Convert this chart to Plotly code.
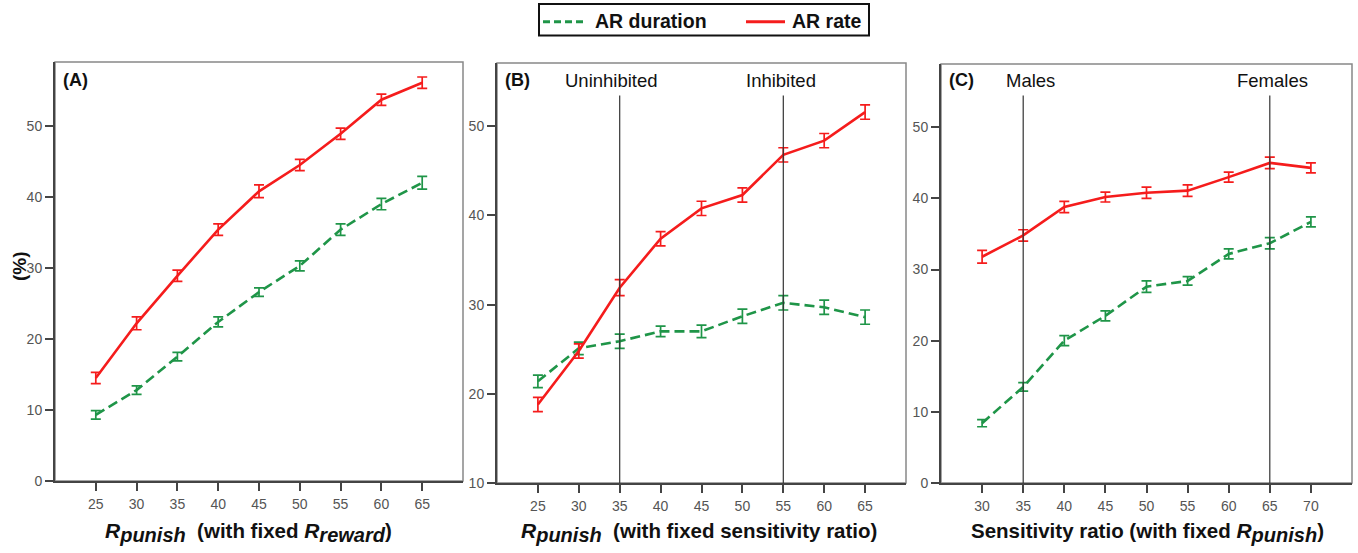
import plotly.graph_objects as go

# ---------------- data ----------------
x_a = [25, 30, 35, 40, 45, 50, 55, 60, 65]
rate_a = [14.5, 22.2, 28.9, 35.4, 40.8, 44.5, 48.9, 53.7, 56.1]
rate_a_err = [0.8, 0.9, 0.8, 0.8, 0.9, 0.8, 0.8, 0.8, 0.8]
dur_a = [9.3, 12.8, 17.5, 22.4, 26.6, 30.3, 35.4, 39.0, 42.0]
dur_a_err = [0.6, 0.6, 0.6, 0.7, 0.6, 0.7, 0.8, 0.8, 0.9]

x_b = [25, 30, 35, 40, 45, 50, 55, 60, 65]
rate_b = [18.8, 24.8, 31.9, 37.4, 40.8, 42.3, 46.8, 48.4, 51.6]
rate_b_err = [0.8, 0.8, 0.9, 0.8, 0.8, 0.8, 0.8, 0.8, 0.8]
dur_b = [21.4, 25.1, 25.9, 27.0, 27.0, 28.7, 30.2, 29.7, 28.6]
dur_b_err = [0.7, 0.7, 0.8, 0.6, 0.7, 0.8, 0.8, 0.8, 0.8]

x_c = [30, 35, 40, 45, 50, 55, 60, 65, 70]
rate_c = [31.8, 34.8, 38.8, 40.2, 40.8, 41.1, 43.0, 45.0, 44.3]
rate_c_err = [0.9, 0.8, 0.8, 0.7, 0.8, 0.8, 0.7, 0.8, 0.7]
dur_c = [8.4, 13.5, 20.0, 23.5, 27.6, 28.4, 32.2, 33.7, 36.7]
dur_c_err = [0.5, 0.6, 0.7, 0.7, 0.8, 0.6, 0.7, 0.8, 0.7]

ref_b = [35, 55]
ref_b_labels = ["Uninhibited", "Inhibited"]
ref_b_shift = [-8, -2]
ref_c = [35, 65]
ref_c_labels = ["Males", "Females"]
ref_c_shift = [7, 3]

panel_labels = ["(A)", "(B)", "(C)"]
series_names = ["AR duration", "AR rate"]

RED = "#f51c1c"
GREEN = "#1f9548"
FONT = "Arial, Liberation Sans, sans-serif"
W, H = 1358, 553


def px_x(p):
    return p / W


def px_y(p):
    return 1 - p / H


# panel geometry in pixels (left, right, top, bottom)
panels = [
    dict(l=55, r=463, t=63, b=488, xr=[20, 70], yr=[0, 59.0], yt=[0, 10, 20, 30, 40, 50], xt=x_a),
    dict(l=497, r=906, t=64, b=490, xr=[20, 70], yr=[10, 57.1], yt=[10, 20, 30, 40, 50], xt=x_b),
    dict(l=941, r=1352, t=65, b=490, xr=[25, 75], yr=[0, 58.9], yt=[0, 10, 20, 30, 40, 50], xt=x_c),
]

fig = go.Figure()

datasets = [
    (x_a, dur_a, dur_a_err, rate_a, rate_a_err),
    (x_b, dur_b, dur_b_err, rate_b, rate_b_err),
    (x_c, dur_c, dur_c_err, rate_c, rate_c_err),
]

for i, (xs, dur, dure, rate, ratee) in enumerate(datasets):
    xa = "x" if i == 0 else f"x{i+1}"
    ya = "y" if i == 0 else f"y{i+1}"
    fig.add_trace(go.Scatter(
        x=xs, y=dur, mode="lines", name=series_names[0], showlegend=False,
        line=dict(color=GREEN, width=2.6, dash="10px,5px"),
        error_y=dict(type="data", array=dure, color=GREEN, thickness=1.7, width=5),
        xaxis=xa, yaxis=ya))
    fig.add_trace(go.Scatter(
        x=xs, y=rate, mode="lines", name=series_names[1], showlegend=False,
        line=dict(color=RED, width=2.6),
        error_y=dict(type="data", array=ratee, color=RED, thickness=1.7, width=5),
        xaxis=xa, yaxis=ya))

layout = dict(
    width=W, height=H,
    margin=dict(l=0, r=0, t=0, b=0),
    paper_bgcolor="white", plot_bgcolor="white",
    font=dict(family=FONT, size=14, color="#555"),
    showlegend=False,
)

shapes = []
annotations = []
for i, p in enumerate(panels):
    sfx = "" if i == 0 else str(i + 1)
    xd = [px_x(p["l"]), px_x(p["r"])]
    yd = [px_y(p["b"]), px_y(p["t"])]
    layout["xaxis" + sfx] = dict(
        domain=xd, range=p["xr"], tickvals=p["xt"], ticks="outside", ticklen=8,
        tickwidth=1.5, tickcolor="#444", showline=True, linecolor="#444", linewidth=2,
        showgrid=False, zeroline=False, anchor="y" + sfx, ticklabelstandoff=1,
        tickfont=dict(size=14, color="#555"), fixedrange=True)
    layout["yaxis" + sfx] = dict(
        domain=yd, range=p["yr"], tickvals=p["yt"], ticks="outside", ticklen=8,
        tickwidth=1.5, tickcolor="#444", showline=True, linecolor="#444", linewidth=2,
        showgrid=False, zeroline=False, anchor="x" + sfx,
        tickfont=dict(size=14, color="#555"), fixedrange=True)
    # frame
    shapes.append(dict(type="rect", xref="paper", yref="paper",
                       x0=xd[0], x1=xd[1], y0=yd[0], y1=yd[1],
                       line=dict(color="#888", width=1.5), layer="below"))
    # panel label
    annotations.append(dict(text="<b>" + panel_labels[i] + "</b>", xref="paper", yref="paper",
                            x=px_x(p["l"] + 6), y=px_y(81), xanchor="left", yanchor="middle",
                            showarrow=False, font=dict(size=18, color="#111")))

# reference lines
for idx, (vals, labs, shifts) in enumerate([(ref_b, ref_b_labels, ref_b_shift),
                                            (ref_c, ref_c_labels, ref_c_shift)]):
    p = panels[idx + 1]
    xref = f"x{idx+2}"
    for v, lab, sh in zip(vals, labs, shifts):
        shapes.append(dict(type="line", xref=xref, yref="paper", x0=v, x1=v,
                           y0=px_y(p["b"]), y1=px_y(97), line=dict(color="#333", width=1.2)))
        annotations.append(dict(text=lab, xref=xref, yref="paper", x=v, y=px_y(81.5),
                                xanchor="center", yanchor="middle", showarrow=False, xshift=sh,
                                font=dict(size=18.5, color="#111")))

SUB = '<sub><span style="font-size:20px">{}</span></sub>'
RR = '<span style="font-size:21px"><i>R</i></span>'

# axis titles
annotations.append(dict(
    text="<b>" + RR + "<i>" + SUB.format("punish") + "</i> &nbsp;(with fixed " + RR + "<i>"
         + SUB.format("reward") + "</i>)</b>",
    xref="paper", yref="paper", x=px_x(249), y=px_y(540), xanchor="center", yanchor="middle",
    showarrow=False, font=dict(size=20.5, color="#111")))
annotations.append(dict(
    text="<b>" + RR + "<i>" + SUB.format("punish") + "</i> &nbsp;(with fixed sensitivity ratio)</b>",
    xref="paper", yref="paper", x=px_x(699), y=px_y(540), xanchor="center", yanchor="middle",
    showarrow=False, font=dict(size=20.5, color="#111")))
annotations.append(dict(
    text="<b>Sensitivity ratio (with fixed " + RR + "<i>" + SUB.format("punish") + "</i>)</b>",
    xref="paper", yref="paper", x=px_x(1147), y=px_y(540), xanchor="center", yanchor="middle",
    showarrow=False, font=dict(size=20.5, color="#111")))
annotations.append(dict(
    text="<b>(%)</b>", xref="paper", yref="paper", x=px_x(19), y=px_y(270),
    xanchor="center", yanchor="middle", textangle=-90, showarrow=False,
    font=dict(size=19, color="#111")))

# legend (drawn as a boxed key above the panels)
shapes.append(dict(type="rect", xref="paper", yref="paper",
                   x0=px_x(539), x1=px_x(869), y0=px_y(36), y1=px_y(4),
                   line=dict(color="#111", width=2), fillcolor="white"))
shapes.append(dict(type="line", xref="paper", yref="paper",
                   x0=px_x(543), x1=px_x(584), y0=px_y(22), y1=px_y(22),
                   line=dict(color=GREEN, width=3, dash="7px,4px")))
shapes.append(dict(type="line", xref="paper", yref="paper",
                   x0=px_x(746), x1=px_x(785), y0=px_y(22), y1=px_y(22),
                   line=dict(color=RED, width=3)))
annotations.append(dict(text="<b>" + series_names[0] + "</b>", xref="paper", yref="paper",
                        x=px_x(593), y=px_y(21), xanchor="left", yanchor="middle",
                        showarrow=False, font=dict(size=19.5, color="#111")))
annotations.append(dict(text="<b>" + series_names[1] + "</b>", xref="paper", yref="paper",
                        x=px_x(790), y=px_y(21), xanchor="left", yanchor="middle",
                        showarrow=False, font=dict(size=19.5, color="#111")))

layout["shapes"] = shapes
layout["annotations"] = annotations
fig.update_layout(**layout)

fig.write_html("out.html")
